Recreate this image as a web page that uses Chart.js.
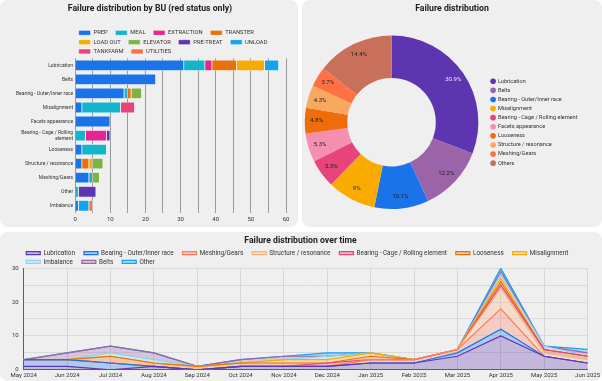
<!DOCTYPE html>
<html>
<head>
<meta charset="utf-8">
<title>Failure dashboard</title>
<script src="https://cdn.jsdelivr.net/npm/chart.js@4.4.1/dist/chart.umd.min.js"></script>
<style>
  html, body { margin: 0; padding: 0; background: #ffffff; }
  body { width: 602px; height: 381px; position: relative; overflow: hidden; }
  .card { position: absolute; background: #efefef; border-radius: 8px; overflow: hidden; }
  #card1 { left: 0; top: 0; width: 298px; height: 227px; }
  #card2 { left: 302px; top: 0; width: 300px; height: 227px; }
  #card3 { left: 0; top: 232px; width: 602px; height: 149px; }
  canvas { display: block; }
</style>
</head>
<body>
<div class="card" id="card1"><canvas id="buChart" width="298" height="227"></canvas></div>
<div class="card" id="card2"><canvas id="pieChart" width="300" height="227"></canvas></div>
<div class="card" id="card3"><canvas id="timeChart" width="602" height="149"></canvas></div>

<script>
// ---- data: failures by BU (red status only) ----
const failureModes = ["Lubrication", "Belts", "Bearing - Outer/Inner race", "Misalignment",
  "Facets appearance", "Bearing - Cage / Rolling element", "Looseness",
  "Structure / resonance", "Meshing/Gears", "Other", "Imbalance"];
const buNames = ["PREP", "MEAL", "EXTRACTION", "TRANSTER", "LOAD OUT", "ELEVATOR",
  "PRE-TREAT", "UNLOAD", "TANKFARM", "UTILITIES"];
const prep       = [31, 23, 14, 2, 10, 0, 2, 2, 4, 0, 1];
const meal       = [6, 0, 1, 11, 0, 3, 7, 0, 1, 1, 0];
const extraction = [2, 0, 0, 0, 0, 6, 0, 0, 0, 0, 0];
const transter   = [7, 0, 1, 0, 0, 0, 0, 2, 0, 0, 0];
const loadOut    = [8, 0, 0, 0, 0, 0, 0, 1, 0, 0, 0];
const elevator   = [0, 0, 3, 0, 0, 0, 0, 3, 2, 0, 0];
const preTreat   = [0, 0, 0, 0, 0, 1, 0, 0, 0, 5, 0];
const unload     = [4, 0, 0, 0, 0, 0, 0, 0, 0, 0, 3];
const tankfarm   = [0, 0, 0, 4, 0, 0, 0, 0, 0, 0, 0];
const utilities  = [0, 0, 0, 0, 0, 0, 0, 0, 0, 0, 1];
const barTicks = [0, 10, 20, 30, 40, 50, 60];

// ---- data: failure distribution (doughnut) ----
const pieLabels = ["Lubrication", "Belts", "Bearing - Outer/Inner race", "Misalignment",
  "Bearing - Cage / Rolling element", "Facets appearance", "Looseness",
  "Structure / resonance", "Meshing/Gears", "Others"];
const pieValues = [58, 23, 19, 17, 10, 10, 9, 8, 7, 27];

// ---- data: failures over time (stacked area) ----
const months = ["May 2024", "Jun 2024", "Jul 2024", "Aug 2024", "Sep 2024", "Oct 2024",
  "Nov 2024", "Dec 2024", "Jan 2025", "Feb 2025", "Mar 2025", "Apr 2025", "May 2025", "Jun 2025"];
const seriesNames = ["Lubrication", "Bearing - Outer/Inner race", "Meshing/Gears",
  "Structure / resonance", "Bearing - Cage / Rolling element", "Looseness",
  "Misalignment", "Imbalance", "Belts", "Other"];
const lubrication  = [1, 1, 0, 1, 0, 1, 1, 1, 2, 2, 4, 10, 4, 2];
const bearingOuter = [2, 2, 2, 0, 0, 0, 0, 0, 0, 0, 1, 2, 0, 0];
const meshing      = [0, 0, 0, 0, 0, 0, 0, 0, 1, 1, 1, 6, 0, 0];
const structure    = [0, 0, 0, 0, 0, 0, 0, 0, 0, 0, 0, 6, 1, 1];
const bearingCage  = [0, 0, 0, 0, 0, 0, 0, 1, 0, 0, 0, 1, 1, 1];
const looseness    = [0, 0, 2, 1, 1, 1, 1, 0, 1, 0, 0, 1, 0, 0];
const misalignment = [0, 0, 0, 0, 0, 0, 1, 1, 1, 0, 0, 1, 0, 0];
const imbalance    = [0, 0, 1, 1, 0, 0, 0, 1, 0, 0, 0, 1, 1, 0];
const belts        = [0, 2, 2, 2, 0, 1, 1, 0, 0, 0, 0, 1, 0, 1];
const other        = [0, 0, 0, 0, 0, 0, 0, 1, 0, 0, 0, 1, 0, 1];
const timeTicks = [0, 10, 20, 30];

// ---- styling ----
const buColors = ["#1a73e8", "#12b5cb", "#e52592", "#e8710a", "#f9ab00", "#7cb342",
  "#5e35b1", "#12a4f0", "#e8437a", "#ff7043"];
const pieColors = ["#5e35b1", "#9c64a8", "#1a73e8", "#f9ab00", "#e8437a", "#f48fb1",
  "#ee6c0a", "#f9a860", "#ff7043", "#c9705a"];
const seriesColors = ["#5e35b1", "#1a73e8", "#ff7a5c", "#f9b27a", "#e8437a", "#e8710a",
  "#f9ab00", "#8fd3f4", "#9c64a8", "#12a4f0"];

Chart.defaults.font.family = "Roboto, 'Noto Sans', sans-serif";
Chart.defaults.color = "#333333";
Chart.defaults.animation = false;

function rgba(hex, a) {
  const n = parseInt(hex.slice(1), 16);
  return `rgba(${(n >> 16) & 255}, ${(n >> 8) & 255}, ${n & 255}, ${a})`;
}

// legend items get a trailing space so items sit further apart without taller rows
function spacedLabels(gap) {
  return function (chart) {
    const items = Chart.defaults.plugins.legend.labels.generateLabels(chart);
    items.forEach((item) => { item.text += gap; });
    return items;
  };
}

// chart.js adds a fixed gap under a top legend; take some of it back
const legendTrim = {
  id: "legendTrim",
  beforeLayout(chart, args, opts) {
    const legend = chart.legend;
    if (!legend || legend._trimmed) return;
    const fit = legend.fit;
    legend.fit = function () {
      fit.call(this);
      this.height = Math.max(0, this.height - (opts.trim || 0));
    };
    legend._trimmed = true;
  },
};

// doughnut: narrow the plot area and pull the side legend in, title stays centred on the card
const pieLayout = {
  id: "pieLayout",
  afterLayout(chart, args, opts) {
    const area = chart.chartArea;
    area.right -= opts.shrink;
    area.width -= opts.shrink;
    chart.legend.left += opts.legendShift;
    chart.legend.right += opts.legendShift;
  },
};

const titleFont = { size: 8.7, weight: "bold" };

// ---- bar chart ----
const buCounts = [prep, meal, extraction, transter, loadOut, elevator, preTreat, unload, tankfarm, utilities];

new Chart(document.getElementById("buChart"), {
  type: "bar",
  data: {
    labels: failureModes,
    datasets: buNames.map((name, i) => ({
      label: name,
      data: buCounts[i],
      backgroundColor: buColors[i],
      borderColor: "rgba(255,255,255,0.8)",
      borderWidth: 0.7,
      barPercentage: 0.8,
      categoryPercentage: 1,
    })),
  },
  options: {
    responsive: false,
    indexAxis: "y",
    layout: { padding: { left: 14, right: 12, top: 0, bottom: 1 } },
    scales: {
      x: {
        stacked: true,
        min: 0,
        max: 60,
        afterBuildTicks: (axis) => {
          axis.ticks = [];
          for (let v = 0; v <= 60; v += 5) axis.ticks.push({ value: v });
        },
        ticks: {
          autoSkip: false,
          maxRotation: 0,
          padding: 3,
          font: { size: 6 },
          callback: (v) => (barTicks.includes(v) ? v : ""),
        },
        grid: { color: "#9a9a9a", drawTicks: false },
        border: { display: false },
      },
      y: {
        stacked: true,
        grid: { display: false, drawTicks: false },
        border: { display: false },
        ticks: {
          autoSkip: false,
          padding: 2,
          font: { size: 5 },
          callback: function (value) {
            const text = this.getLabelForValue(value);
            if (text.length <= 26) return text;
            const cut = text.lastIndexOf(" ", 24);
            return [text.slice(0, cut), text.slice(cut + 1)];
          },
        },
      },
    },
    plugins: {
      title: {
        display: true,
        text: "Failure distribution by BU (red status only)",
        font: titleFont,
        color: "#202124",
        padding: { top: 4, bottom: 12 },
      },
      legend: {
        fullSize: false,
        align: "start",
        labels: {
          boxWidth: 12,
          boxHeight: 5,
          padding: 3.5,
          font: { size: 5.8 },
          generateLabels: spacedLabels("\u2002\u2009"),
        },
      },
      legendTrim: { trim: 6 },
      tooltip: { enabled: false },
    },
  },
  plugins: [legendTrim],
});

// ---- doughnut ----
const sliceLabels = {
  id: "sliceLabels",
  afterDatasetsDraw(chart) {
    const { ctx } = chart;
    const total = pieValues.reduce((a, b) => a + b, 0);
    const meta = chart.getDatasetMeta(0);
    ctx.save();
    ctx.font = "6px Roboto, sans-serif";
    ctx.textAlign = "center";
    ctx.textBaseline = "middle";
    meta.data.forEach((arc, i) => {
      const p = arc.getProps(["x", "y", "startAngle", "endAngle", "innerRadius", "outerRadius"], true);
      const mid = (p.startAngle + p.endAngle) / 2;
      const r = p.innerRadius + (p.outerRadius - p.innerRadius) * 0.72;
      const pct = parseFloat(((pieValues[i] / total) * 100).toFixed(1)) + "%";
      ctx.fillStyle = i === 0 ? "#ece6f7" : "#222222";
      ctx.fillText(pct, p.x + Math.cos(mid) * r, p.y + Math.sin(mid) * r);
    });
    ctx.restore();
  },
};

new Chart(document.getElementById("pieChart"), {
  type: "doughnut",
  data: {
    labels: pieLabels,
    datasets: [{ data: pieValues, backgroundColor: pieColors, borderWidth: 0 }],
  },
  options: {
    responsive: false,
    cutout: "51%",
    layout: { padding: { left: 0, right: 0, top: 0, bottom: 18 } },
    plugins: {
      title: {
        display: true,
        text: "Failure distribution",
        font: titleFont,
        color: "#202124",
        padding: { top: 4, bottom: 21 },
      },
      legend: {
        position: "right",
        fullSize: false,
        labels: {
          usePointStyle: true,
          pointStyle: "circle",
          boxWidth: 4,
          boxHeight: 4,
          padding: 3.5,
          font: { size: 5.6 },
        },
      },
      pieLayout: { shrink: 21, legendShift: -14.5 },
      tooltip: { enabled: false },
    },
  },
  plugins: [sliceLabels, pieLayout],
});

// ---- stacked area over time ----
const seriesData = [lubrication, bearingOuter, meshing, structure, bearingCage, looseness,
  misalignment, imbalance, belts, other];

new Chart(document.getElementById("timeChart"), {
  type: "line",
  data: {
    labels: months,
    datasets: seriesNames.map((name, i) => ({
      label: name,
      data: seriesData[i],
      borderColor: seriesColors[i],
      backgroundColor: rgba(seriesColors[i], 0.3),
      fill: i === 0 ? "origin" : "-1",
      borderWidth: 1.2,
      pointRadius: 0,
      tension: 0,
    })),
  },
  options: {
    responsive: false,
    layout: { padding: { left: 7, right: 8, top: 0, bottom: 0 } },
    scales: {
      x: {
        grid: { color: "#d6d6d6", drawTicks: false },
        border: { color: "#5f5f5f" },
        ticks: { autoSkip: false, maxRotation: 0, padding: 2, font: { size: 6 } },
      },
      y: {
        stacked: true,
        min: 0,
        max: 30,
        afterBuildTicks: (axis) => {
          axis.ticks = [];
          for (let v = 0; v <= 30; v += 5) axis.ticks.push({ value: v });
        },
        ticks: {
          padding: 5,
          font: { size: 6 },
          callback: (v) => (timeTicks.includes(v) ? v : ""),
        },
        grid: { color: "#dadada", drawTicks: false },
        border: { color: "#5f5f5f" },
      },
    },
    plugins: {
      title: {
        display: true,
        text: "Failure distribution over time",
        font: titleFont,
        color: "#202124",
        padding: { top: 4, bottom: 1 },
      },
      legend: {
        fullSize: false,
        align: "start",
        labels: {
          boxWidth: 14,
          boxHeight: 3,
          padding: 2.5,
          font: { size: 6.35 },
          generateLabels: spacedLabels("\u2003"),
        },
      },
      legendTrim: { trim: 7 },
      tooltip: { enabled: false },
    },
  },
  plugins: [legendTrim],
});
</script>
</body>
</html>
